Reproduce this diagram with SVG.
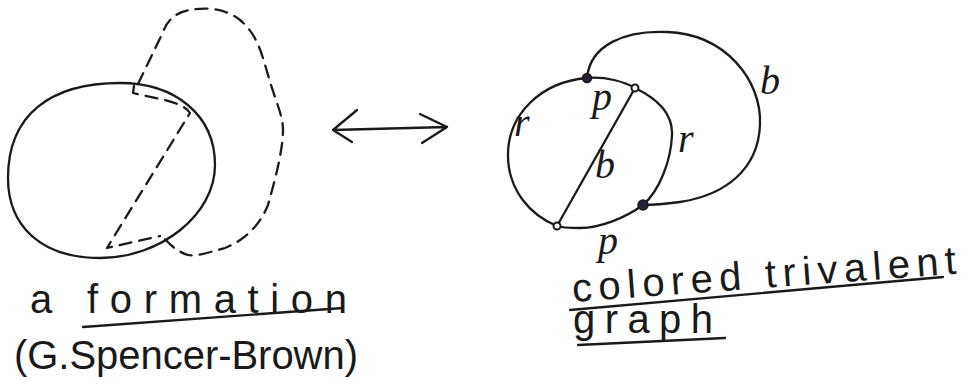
<svg xmlns="http://www.w3.org/2000/svg" width="968" height="387" viewBox="0 0 968 387">
<style>
.ink{fill:none;stroke:#1a1a1a;stroke-width:2.3;stroke-linecap:round;stroke-linejoin:round}
.dash{stroke-dasharray:12 8}
.hand{font-family:"Liberation Sans","DejaVu Sans",sans-serif;fill:#1a1a1a;font-size:40px}
.lbl{font-family:"Liberation Serif","DejaVu Serif",serif;font-style:italic;fill:#1a1a1a;font-size:40px}
.vfill{fill:#2a1f3a;stroke:#1a1a1a;stroke-width:1.5}
.vopen{fill:#ffffff;stroke:#1a1a1a;stroke-width:2}
</style>
<rect width="968" height="387" fill="#ffffff"/>
<g id="formation">
  <path class="ink" d="M 120,83 C 175,83 215,115 215,165 C 215,215 160,258 100,258 C 40,258 8,225 8,178 C 8,115 50,83 120,83 Z"/>
  <path class="ink dash" d="M 138,84 L 163,32 C 168,18 178,12 190,10 C 205,7 225,8 240,20 C 258,35 262,55 268,75 C 275,100 283,115 283,130 C 283,150 275,180 268,205 C 260,225 245,240 225,248 C 210,252 195,257 188,255 C 178,252 170,245 163,237"/>
  <path class="ink dash" d="M 134,86 L 133,93 L 165,100 Q 185,105 190,113 L 107,248 L 160,236"/>
</g>
<g id="connectors">
  <path class="ink" d="M 333,130 L 447,127 M 333,130 L 357,110 M 333,130 L 352,142 M 447,127 L 420,114 M 447,127 L 422,143"/>
</g>
<g id="graph">
  <path class="ink" d="M 587,78 C 605,76 625,82 635,88 C 660,100 673,115 672,135 C 671,160 660,190 643,205 C 625,218 600,228 580,228 C 570,228 562,228 557,226 C 530,215 508,190 508,155 C 508,115 540,82 587,78 Z"/>
  <path class="ink" d="M 587,78 C 590,45 625,30 667,32 C 725,34 762,80 760,125 C 758,170 725,195 680,202 C 665,204 650,205 643,205"/>
  <path class="ink" d="M 635,88 L 557,226"/>
  <circle class="vfill" cx="587" cy="78" r="4.5"/>
  <circle class="vfill" cx="643" cy="205" r="5"/>
  <circle class="vopen" cx="635" cy="88" r="3.5"/>
  <circle class="vopen" cx="557" cy="226" r="3.5"/>
  <text class="lbl" x="514" y="136">r</text>
  <text class="lbl" x="592" y="110">p</text>
  <text class="lbl" x="678" y="152">r</text>
  <text class="lbl" x="595" y="178">b</text>
  <text class="lbl" x="760" y="94">b</text>
  <text class="lbl" x="598" y="254">p</text>
</g>
<g id="caption-left">
  <text class="hand" x="30" y="313">a</text>
  <text class="hand" x="87" y="313" textLength="260" lengthAdjust="spacing">formation</text>
  <line class="ink" x1="83" y1="327" x2="343" y2="308"/>
  <text class="hand" x="14" y="369" textLength="344" lengthAdjust="spacing">(G.Spencer-Brown)</text>
</g>
<g id="caption-right">
  <text class="hand" x="573" y="302" textLength="385" lengthAdjust="spacing" transform="rotate(-4.2 573 302)">colored trivalent</text>
  <line class="ink" x1="570" y1="310" x2="943" y2="277"/>
  <text class="hand" x="573" y="333" textLength="140" lengthAdjust="spacing">graph</text>
  <line class="ink" x1="578" y1="345" x2="725" y2="338"/>
</g>
</svg>
